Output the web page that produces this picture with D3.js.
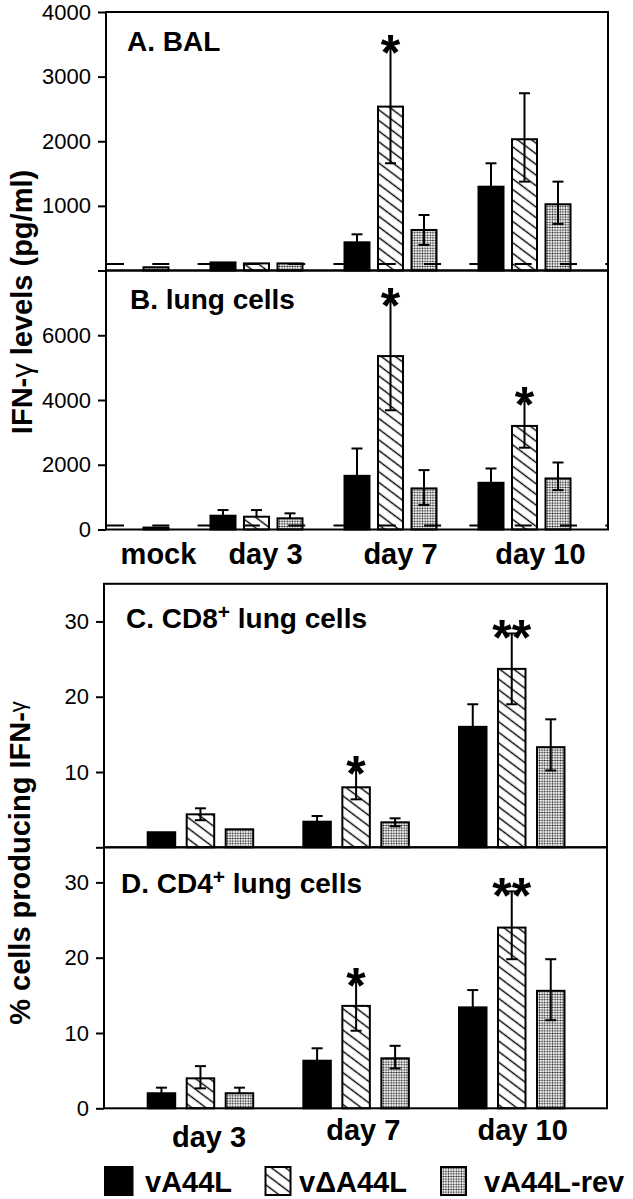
<!DOCTYPE html>
<html><head><meta charset="utf-8">
<script src="https://cdn.jsdelivr.net/npm/d3@7"></script>
<style>body{margin:0;background:#fff}svg{display:block}</style>
</head><body>
<script>
// ---------- DATA ----------
const series = ["vA44L", "vΔA44L", "vA44L-rev"];
const groupsAB = ["mock", "day 3", "day 7", "day 10"];
const groupsCD = ["day 3", "day 7", "day 10"];

// A. BAL – IFN-γ pg/ml  (rows = groups, cols = series)
const balMean  = [[null, null, 50], [125, 110, 110], [436, 2536, 627], [1297, 2031, 1025]];
const balUpper = [[null, null, null], [null, null, null], [560, 3440, 859], [1659, 2743, 1375]];
const balLower = [[null, null, null], [null, null, null], [null, 1659, 395], [null, 1375, 720]];
const balLimit = 100;

// B. lung cells – IFN-γ pg/ml
const lungMean  = [[null, null, 60], [426, 395, 345], [1658, 5356, 1269], [1443, 3199, 1577]];
const lungUpper = [[null, null, null], [601, 601, 499], [2502, 7050, 1834], [1885, 3970, 2070]];
const lungLower = [[null, null, null], [null, null, null], [null, 3683, 755], [null, 2527, 1217]];
const lungLimit = 120;

// C. CD8+ lung cells – % producing IFN-γ
const cd8Mean  = [[2.0, 4.38, 2.39], [3.4, 7.97, 3.32], [16.0, 23.7, 13.3]];
const cd8Upper = [[null, 5.18, null], [4.16, 10.3, 3.85], [19.0, 28.4, 17.0]];
const cd8Lower = [[null, 3.6, null], [null, 6.37, 2.8], [null, 19.0, 10.2]];

// D. CD4+ lung cells – % producing IFN-γ
const cd4Mean  = [[2.0, 3.98, 2.0], [6.32, 13.6, 6.64], [13.4, 24.0, 15.6]];
const cd4Upper = [[2.74, 5.6, 2.74], [7.97, 16.8, 8.3], [15.7, 28.8, 19.8]];
const cd4Lower = [[null, 2.65, null], [null, 10.3, 5.3], [null, 19.8, 11.7]];

// significance marks: [group, series index, text]
const sigA = [["day 7", 1, "*"]];
const sigB = [["day 7", 1, "*"], ["day 10", 1, "*"]];
const sigC = [["day 7", 1, "*"], ["day 10", 1, "**"]];
const sigD = [["day 7", 1, "*"], ["day 10", 1, "**"]];

const ticksA = [0, 1000, 2000, 3000, 4000], labelsA = [1000, 2000, 3000, 4000];
const ticksB = [0, 2000, 4000, 6000, 8000], labelsB = [0, 2000, 4000, 6000];
const ticksC = [0, 10, 20, 30], labelsC = [10, 20, 30];
const ticksD = [0, 10, 20, 30], labelsD = [0, 10, 20, 30];

// ---------- DRAWING ----------
const FONT = "'Liberation Sans', Arial, Helvetica, sans-serif";
const svg = d3.select("body").append("svg").attr("width", 633).attr("height", 1199)
  .style("font-family", FONT);

const defs = svg.append("defs");
const hatch = defs.append("pattern").attr("id", "hatch").attr("patternUnits", "userSpaceOnUse")
  .attr("width", 8.5).attr("height", 8.5).attr("patternTransform", "rotate(37)");
hatch.append("rect").attr("width", 8.5).attr("height", 8.5).attr("fill", "#fff");
hatch.append("line").attr("x1", 0).attr("x2", 8.5).attr("y1", 4.25).attr("y2", 4.25)
  .attr("stroke", "#000").attr("stroke-width", 1.4);
const dots = defs.append("pattern").attr("id", "dots").attr("patternUnits", "userSpaceOnUse")
  .attr("width", 2.6).attr("height", 2.6);
dots.append("rect").attr("width", 2.6).attr("height", 2.6).attr("fill", "#fff");
dots.append("circle").attr("cx", 1.3).attr("cy", 1.3).attr("r", 0.9).attr("fill", "#111");

const fills = ["#000", "url(#hatch)", "url(#dots)"];

function panel(c) {
  const g = svg.append("g");
  const y = d3.scaleLinear().domain([0, c.max]).range([c.yBot, c.yTop]);
  const gx = d3.scaleBand().domain(c.groups).range([c.gx0, c.gx0 + c.gstep * c.groups.length]).padding(0);
  const sx = d3.scaleBand().domain(series).range([0, 2 * c.slot + c.bw])
    .paddingInner((c.slot - c.bw) / c.slot).paddingOuter(0);
  const bw = sx.bandwidth();

  const bars = [];
  c.groups.forEach((grp, gi) => series.forEach((s, si) => {
    const v = c.mean[gi][si];
    if (v == null) return;
    bars.push({grp, s, si, v, up: c.upper[gi][si], lo: c.lower[gi][si]});
  }));

  g.selectAll("rect.bar").data(bars).join("rect").attr("class", "bar")
    .attr("x", d => gx(d.grp) + sx(d.s)).attr("y", d => y(d.v))
    .attr("width", bw).attr("height", d => y(0) - y(d.v))
    .attr("fill", d => fills[d.si]).attr("stroke", "#000").attr("stroke-width", 2);

  if (c.limit != null) {
    g.append("line").attr("x1", c.x0 + 1).attr("x2", c.x1 - 1)
      .attr("y1", y(c.limit)).attr("y2", y(c.limit))
      .attr("stroke", "#000").attr("stroke-width", 2).attr("stroke-dasharray", "17 28.3");
  }

  const cap = 5.5;
  const eb = g.selectAll("g.err").data(bars.filter(d => d.up != null)).join("g").attr("class", "err")
    .attr("stroke", "#000").attr("stroke-width", 2);
  eb.append("line")
    .attr("x1", d => gx(d.grp) + sx(d.s) + bw / 2).attr("x2", d => gx(d.grp) + sx(d.s) + bw / 2)
    .attr("y1", d => y(d.lo != null ? d.lo : d.v)).attr("y2", d => y(d.up));
  eb.append("line")
    .attr("x1", d => gx(d.grp) + sx(d.s) + bw / 2 - cap).attr("x2", d => gx(d.grp) + sx(d.s) + bw / 2 + cap)
    .attr("y1", d => y(d.up)).attr("y2", d => y(d.up));
  eb.filter(d => d.lo != null).append("line")
    .attr("x1", d => gx(d.grp) + sx(d.s) + bw / 2 - cap).attr("x2", d => gx(d.grp) + sx(d.s) + bw / 2 + cap)
    .attr("y1", d => y(d.lo)).attr("y2", d => y(d.lo));

  // significance asterisks
  const fs = 50;
  g.selectAll("text.sig").data(c.sig).join("text").attr("class", "sig")
    .attr("x", d => gx(d[0]) + sx(series[d[1]]) + bw / 2)
    .attr("y", d => {
      const gi = c.groups.indexOf(d[0]);
      return y(c.upper[gi][d[1]]) - 7.5 + 0.58 * fs;
    })
    .attr("text-anchor", "middle").attr("font-size", fs).attr("font-weight", "bold").text(d => d[2]);

  // frame
  g.append("rect").attr("x", c.x0).attr("y", c.yTop).attr("width", c.x1 - c.x0).attr("height", c.yBot - c.yTop)
    .attr("fill", "none").attr("stroke", "#000").attr("stroke-width", 2);

  // y axis
  const ax = g.append("g").attr("transform", `translate(${c.x0},0)`)
    .call(d3.axisLeft(y).tickValues(c.ticks).tickSize(8).tickPadding(7)
      .tickFormat(d => c.labels.includes(d) ? d : ""));
  ax.select(".domain").remove();
  ax.selectAll("line").attr("stroke-width", 2);
  ax.selectAll("text").attr("font-size", 22).attr("font-family", FONT).attr("fill", "#000");

  // title
  const t = g.append("text").attr("x", c.titleX).attr("y", c.titleY)
    .attr("font-size", 28).attr("font-weight", "bold");
  t.append("tspan").text(c.title[0]);
  if (c.title.length > 1) {
    t.append("tspan").attr("font-size", 21).attr("dy", -9).text(c.title[1]);
    t.append("tspan").attr("dy", 9).text(c.title[2]);
  }
  return {gx, sx};
}

const AB = {x0: 106, x1: 608, groups: groupsAB, gx0: 76.5, gstep: 134, slot: 33.5, bw: 25};
const CD = {x0: 104, x1: 607, groups: groupsCD, gx0: 147.7, gstep: 155.65, slot: 39, bw: 27.5};

panel({...AB, yTop: 12, yBot: 270.5, max: 4000, ticks: ticksA, labels: labelsA,
  mean: balMean, upper: balUpper, lower: balLower, limit: balLimit, sig: sigA,
  title: ["A. BAL"], titleX: 127, titleY: 51});
const pB = panel({...AB, yTop: 270.5, yBot: 529.5, max: 8000, ticks: ticksB, labels: labelsB,
  mean: lungMean, upper: lungUpper, lower: lungLower, limit: lungLimit, sig: sigB,
  title: ["B. lung cells"], titleX: 130, titleY: 309});
panel({...CD, yTop: 583.8, yBot: 847.3, max: 35, ticks: ticksC, labels: labelsC,
  mean: cd8Mean, upper: cd8Upper, lower: cd8Lower, sig: sigC,
  title: ["C. CD8", "+", " lung cells"], titleX: 126, titleY: 628});
const pD = panel({...CD, yTop: 847.3, yBot: 1108.3, max: 34.66, ticks: ticksD, labels: labelsD,
  mean: cd4Mean, upper: cd4Upper, lower: cd4Lower, sig: sigD,
  title: ["D. CD4", "+", " lung cells"], titleX: 121, titleY: 893});

// x category labels (layout nudges)
const nudgeAB = [36, 9, 10, 16], dyAB = [0, 0, 0, 0];
const nudgeCD = [8.6, 7.2, 11], dyCD = [6.7, 0, 0];
const barsSpanAB = 2 * AB.slot + AB.bw, barsSpanCD = 2 * CD.slot + CD.bw;
svg.append("g").selectAll("text").data(groupsAB).join("text")
  .attr("x", (d, i) => pB.gx(d) + barsSpanAB / 2 + nudgeAB[i]).attr("y", (d, i) => 564 + dyAB[i])
  .attr("text-anchor", "middle").attr("font-size", 29).attr("font-weight", "bold").text(d => d);
svg.append("g").selectAll("text").data(groupsCD).join("text")
  .attr("x", (d, i) => pD.gx(d) + barsSpanCD / 2 + nudgeCD[i]).attr("y", (d, i) => 1140 + dyCD[i])
  .attr("text-anchor", "middle").attr("font-size", 29).attr("font-weight", "bold").text(d => d);

// y-axis titles
const yt1 = svg.append("text").attr("transform", "translate(31.5,302) rotate(-90)")
  .attr("text-anchor", "middle").attr("font-size", 29).attr("font-weight", "bold");
yt1.append("tspan").text("IFN-");
yt1.append("tspan").attr("font-weight", "normal").text("γ");
yt1.append("tspan").text(" levels (pg/ml)");
const yt2 = svg.append("text").attr("transform", "translate(30,863) rotate(-90)")
  .attr("text-anchor", "middle").attr("font-size", 29).attr("font-weight", "bold");
yt2.append("tspan").text("% cells producing IFN-");
yt2.append("tspan").attr("font-weight", "normal").attr("font-size", 22).attr("dy", -5).text("γ");

// legend
const legendX = [105, 265.5, 441], legendTextX = [145, 299, 484];
const lg = svg.append("g").selectAll("g").data(series).join("g");
lg.append("rect").attr("x", (d, i) => legendX[i]).attr("y", 1167)
  .attr("width", (d, i) => i === 0 ? 27.5 : 25).attr("height", 28)
  .attr("fill", (d, i) => fills[i]).attr("stroke", "#000").attr("stroke-width", 2);
lg.append("text").attr("x", (d, i) => legendTextX[i]).attr("y", 1192)
  .attr("font-size", 29).attr("font-weight", "bold").text(d => d);
</script>
</body></html>
